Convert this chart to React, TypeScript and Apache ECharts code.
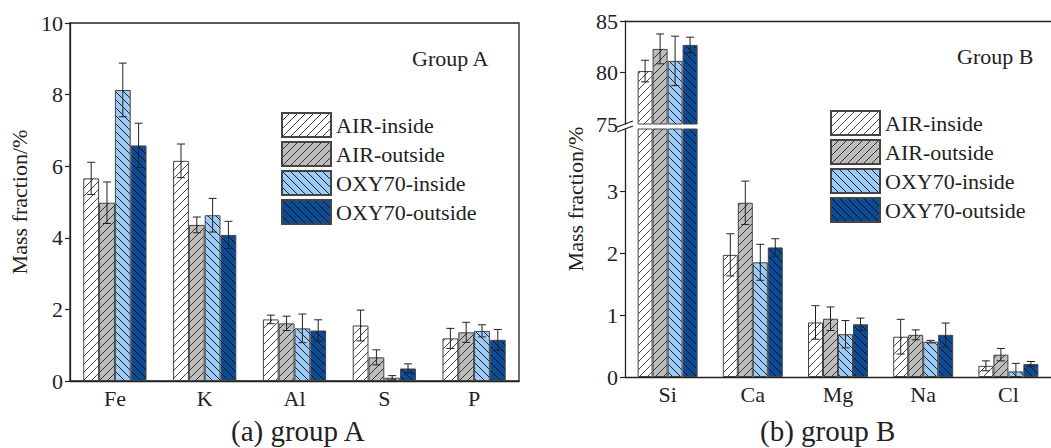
import React, { useEffect, useRef } from 'react';
import * as echarts from 'echarts';

const seriesNames = ['AIR-inside', 'AIR-outside', 'OXY70-inside', 'OXY70-outside'];

// Group A
const catsA = ['Fe', 'K', 'Al', 'S', 'P'];
const airInA = [5.66, 6.15, 1.72, 1.55, 1.19];
const airInAErr = [0.45, 0.47, 0.12, 0.43, 0.28];
const airOutA = [4.98, 4.36, 1.61, 0.66, 1.36];
const airOutAErr = [0.58, 0.22, 0.2, 0.21, 0.28];
const oxyInA = [8.13, 4.63, 1.47, 0.09, 1.4];
const oxyInAErr = [0.75, 0.47, 0.4, 0.06, 0.17];
const oxyOutA = [6.58, 4.08, 1.41, 0.35, 1.15];
const oxyOutAErr = [0.62, 0.38, 0.3, 0.13, 0.29];

// Group B
const catsB = ['Si', 'Ca', 'Mg', 'Na', 'Cl'];
const airInB = [80.14, 1.97, 0.88, 0.65, 0.18];
const airInBErr = [1.05, 0.34, 0.27, 0.28, 0.08];
const airOutB = [82.29, 2.81, 0.94, 0.68, 0.36];
const airOutBErr = [1.45, 0.35, 0.19, 0.08, 0.1];
const oxyInB = [81.13, 1.85, 0.69, 0.57, 0.09];
const oxyInBErr = [2.4, 0.29, 0.22, 0.02, 0.13];
const oxyOutB = [82.68, 2.09, 0.85, 0.68, 0.21];
const oxyOutBErr = [0.75, 0.14, 0.1, 0.19, 0.04];

const ticksA = [0, 2, 4, 6, 8, 10];
const ticksBLow = [0, 1, 2, 3];
const ticksBHigh = [75, 80, 85];
const ticksBHighMarks = [80, 85];

const FONT = '"Liberation Serif", "Times New Roman", serif';
const TXT = '#222';
const BAR_RATIO = 0.176;

function hatch(bg: string, dir: 'fwd' | 'back', line: string) {
  const s = 8;
  const c = document.createElement('canvas');
  c.width = s;
  c.height = s;
  const ctx = c.getContext('2d')!;
  ctx.fillStyle = bg;
  ctx.fillRect(0, 0, s, s);
  ctx.strokeStyle = line;
  ctx.lineWidth = 1;
  ctx.beginPath();
  if (dir === 'fwd') {
    ctx.moveTo(-1, s + 1); ctx.lineTo(s + 1, -1);
    ctx.moveTo(-1, 1); ctx.lineTo(1, -1);
    ctx.moveTo(s - 1, s + 1); ctx.lineTo(s + 1, s - 1);
  } else {
    ctx.moveTo(-1, -1); ctx.lineTo(s + 1, s + 1);
    ctx.moveTo(s - 1, -1); ctx.lineTo(s + 1, 1);
    ctx.moveTo(-1, s - 1); ctx.lineTo(1, s + 1);
  }
  ctx.stroke();
  return { image: c, repeat: 'repeat', imageWidth: s, imageHeight: s } as any;
}

export default function App() {
  const ref = useRef<HTMLDivElement>(null);
  useEffect(() => {
    if (!ref.current) return;
    const chart = echarts.init(ref.current, null, { renderer: 'svg' });
    const fills = [
      hatch('#ffffff', 'fwd', '#444'),
      hatch('#bdbdbd', 'fwd', '#333'),
      hatch('#9dcbf7', 'back', '#222'),
      hatch('#0b4c99', 'back', '#111'),
    ];
    const valsA = [airInA, airOutA, oxyInA, oxyOutA];
    const errsA = [airInAErr, airOutAErr, oxyInAErr, oxyOutAErr];
    const valsB = [airInB, airOutB, oxyInB, oxyOutB];
    const errsB = [airInBErr, airOutBErr, oxyInBErr, oxyOutBErr];

    const errRender = (params: any, api: any) => {
      const cat = api.value(0);
      const val = api.value(1);
      const err = api.value(2);
      const s = api.value(3);
      const band = api.size([1, 0])[0];
      const bw = band * BAR_RATIO;
      const c = api.coord([cat, val]);
      const x = c[0] + (s - 1.5) * bw;
      const top = api.coord([cat, val + err])[1];
      const bot = api.coord([cat, Math.max(val - err, 0)])[1];
      const cap = 4;
      const st = { stroke: '#222', lineWidth: 1 };
      return {
        type: 'group',
        children: [
          { type: 'line', shape: { x1: x, y1: top, x2: x, y2: bot }, style: st },
          { type: 'line', shape: { x1: x - cap, y1: top, x2: x + cap, y2: top }, style: st },
          { type: 'line', shape: { x1: x - cap, y1: bot, x2: x + cap, y2: bot }, style: st },
        ],
      };
    };

    const itemStyle = (i: number) => ({ color: fills[i], borderColor: '#444', borderWidth: 1 });

    const series: any[] = [];
    valsA.forEach((v, i) => {
      series.push({
        type: 'bar', name: seriesNames[i], xAxisIndex: 0, yAxisIndex: 0,
        data: v, barWidth: '17.6%', barGap: '0%', itemStyle: itemStyle(i), clip: true,
      });
    });
    const errDataA: any[] = [];
    valsA.forEach((v, i) => v.forEach((val, k) => errDataA.push([k, val, errsA[i][k], i])));
    series.push({
      type: 'custom', name: 'errA', xAxisIndex: 0, yAxisIndex: 0, renderItem: errRender,
      data: errDataA, encode: { x: 0, y: 1 }, z: 5,
    });
    valsB.forEach((v, i) => {
      series.push({
        type: 'bar', name: seriesNames[i], xAxisIndex: 1, yAxisIndex: 1,
        data: v.map((val, k) => (k === 0 ? val : '-')), barWidth: '17.6%', barGap: '0%',
        itemStyle: itemStyle(i), clip: true,
      });
    });
    const errDataBHigh: any[] = [];
    valsB.forEach((v, i) => errDataBHigh.push([0, v[0], errsB[i][0], i]));
    series.push({
      type: 'custom', name: 'errBHigh', xAxisIndex: 1, yAxisIndex: 1, renderItem: errRender,
      data: errDataBHigh, encode: { x: 0, y: 1 }, z: 5,
    });
    valsB.forEach((v, i) => {
      series.push({
        type: 'bar', name: seriesNames[i], xAxisIndex: 3, yAxisIndex: 2,
        data: v, barWidth: '17.6%', barGap: '0%', itemStyle: itemStyle(i), clip: true,
      });
    });
    const errDataBLow: any[] = [];
    valsB.forEach((v, i) => v.forEach((val, k) => { if (k > 0) errDataBLow.push([k, val, errsB[i][k], i]); }));
    series.push({
      type: 'custom', name: 'errBLow', xAxisIndex: 3, yAxisIndex: 2, renderItem: errRender,
      data: errDataBLow, encode: { x: 0, y: 1 }, z: 5,
    });

    const axisLine = { show: true, lineStyle: { color: '#222', width: 1.3 } };
    const yTick = { show: true, inside: false, length: 5, lineStyle: { color: '#222', width: 1.2 } };
    const yLabel = { fontFamily: FONT, fontSize: 22, color: TXT, margin: 7 };
    const xLabel = { fontFamily: FONT, fontSize: 22, color: TXT, margin: 6 };
    const legendCommon = {
      orient: 'vertical', itemWidth: 49, itemHeight: 24, itemGap: 3, padding: 0, icon: 'rect',
      data: seriesNames, selectedMode: false,
      textStyle: { fontFamily: FONT, fontSize: 22, color: TXT, padding: [0, 0, 0, 0] },
    };
    const titleStyle = { fontFamily: FONT, fontWeight: 'normal', color: TXT };

    const option: any = {
      animation: false,
      title: [
        { text: 'Group A', left: 412, top: 47, padding: 0, textStyle: { ...titleStyle, fontSize: 22 } },
        { text: 'Group B', left: 957, top: 45, padding: 0, textStyle: { ...titleStyle, fontSize: 22 } },
        { text: '(a) group A', left: 231, top: 416, padding: 0, textStyle: { ...titleStyle, fontSize: 29 } },
        { text: '(b) group B', left: 760, top: 416, padding: 0, textStyle: { ...titleStyle, fontSize: 29 } },
      ],
      legend: [
        { ...legendCommon, left: 281, top: 112 },
        { ...legendCommon, left: 830, top: 110 },
      ],
      grid: [
        { left: 70, top: 23, width: 449, height: 358, show: true, borderColor: '#222', borderWidth: 1.3, backgroundColor: 'transparent' },
        { left: 625, top: 21, width: 436, height: 103 },
        { left: 625, top: 129, width: 436, height: 248 },
      ],
      xAxis: [
        { type: 'category', gridIndex: 0, data: catsA, axisLine, axisTick: { show: false }, axisLabel: xLabel },
        { type: 'category', gridIndex: 1, data: catsB, axisLine: { show: false }, axisTick: { show: false }, axisLabel: { show: false } },
        { type: 'category', gridIndex: 1, position: 'top', data: catsB, axisLine, axisTick: { show: false }, axisLabel: { show: false } },
        { type: 'category', gridIndex: 2, data: catsB, axisLine, axisTick: { show: false }, axisLabel: xLabel },
      ],
      yAxis: [
        {
          type: 'value', gridIndex: 0, min: 0, max: 10, interval: 2, axisLine, axisTick: { ...yTick, customValues: ticksA },
          axisLabel: { ...yLabel, customValues: ticksA }, splitLine: { show: false },
          name: 'Mass fraction/%', nameLocation: 'middle', nameGap: 40,
          nameTextStyle: { fontFamily: FONT, fontSize: 22, color: TXT },
        },
        {
          type: 'value', gridIndex: 1, min: 75, max: 85, interval: 5, axisLine,
          axisTick: { ...yTick, customValues: ticksBHighMarks },
          axisLabel: { ...yLabel, customValues: ticksBHigh }, splitLine: { show: false },
        },
        {
          type: 'value', gridIndex: 2, min: 0, max: 4, interval: 1, axisLine,
          axisTick: { ...yTick, customValues: ticksBLow },
          axisLabel: { ...yLabel, customValues: ticksBLow }, splitLine: { show: false },
        },
      ],
      graphic: [
        { type: 'line', shape: { x1: 617, y1: 127, x2: 633, y2: 121 }, style: { stroke: '#222', lineWidth: 1.2 } },
        { type: 'line', shape: { x1: 617, y1: 132, x2: 633, y2: 126 }, style: { stroke: '#222', lineWidth: 1.2 } },
        {
          type: 'text', x: 575, y: 199, rotation: Math.PI / 2,
          style: { text: 'Mass fraction/%', font: `22px ${FONT}`, fill: TXT, align: 'center', verticalAlign: 'middle' },
        },
      ],
      series,
    };
    chart.setOption(option);
    return () => chart.dispose();
  }, []);
  return <div ref={ref} style={{ position: 'absolute', left: 0, top: 0, width: 1051, height: 448, background: '#fff' }} />;
}
